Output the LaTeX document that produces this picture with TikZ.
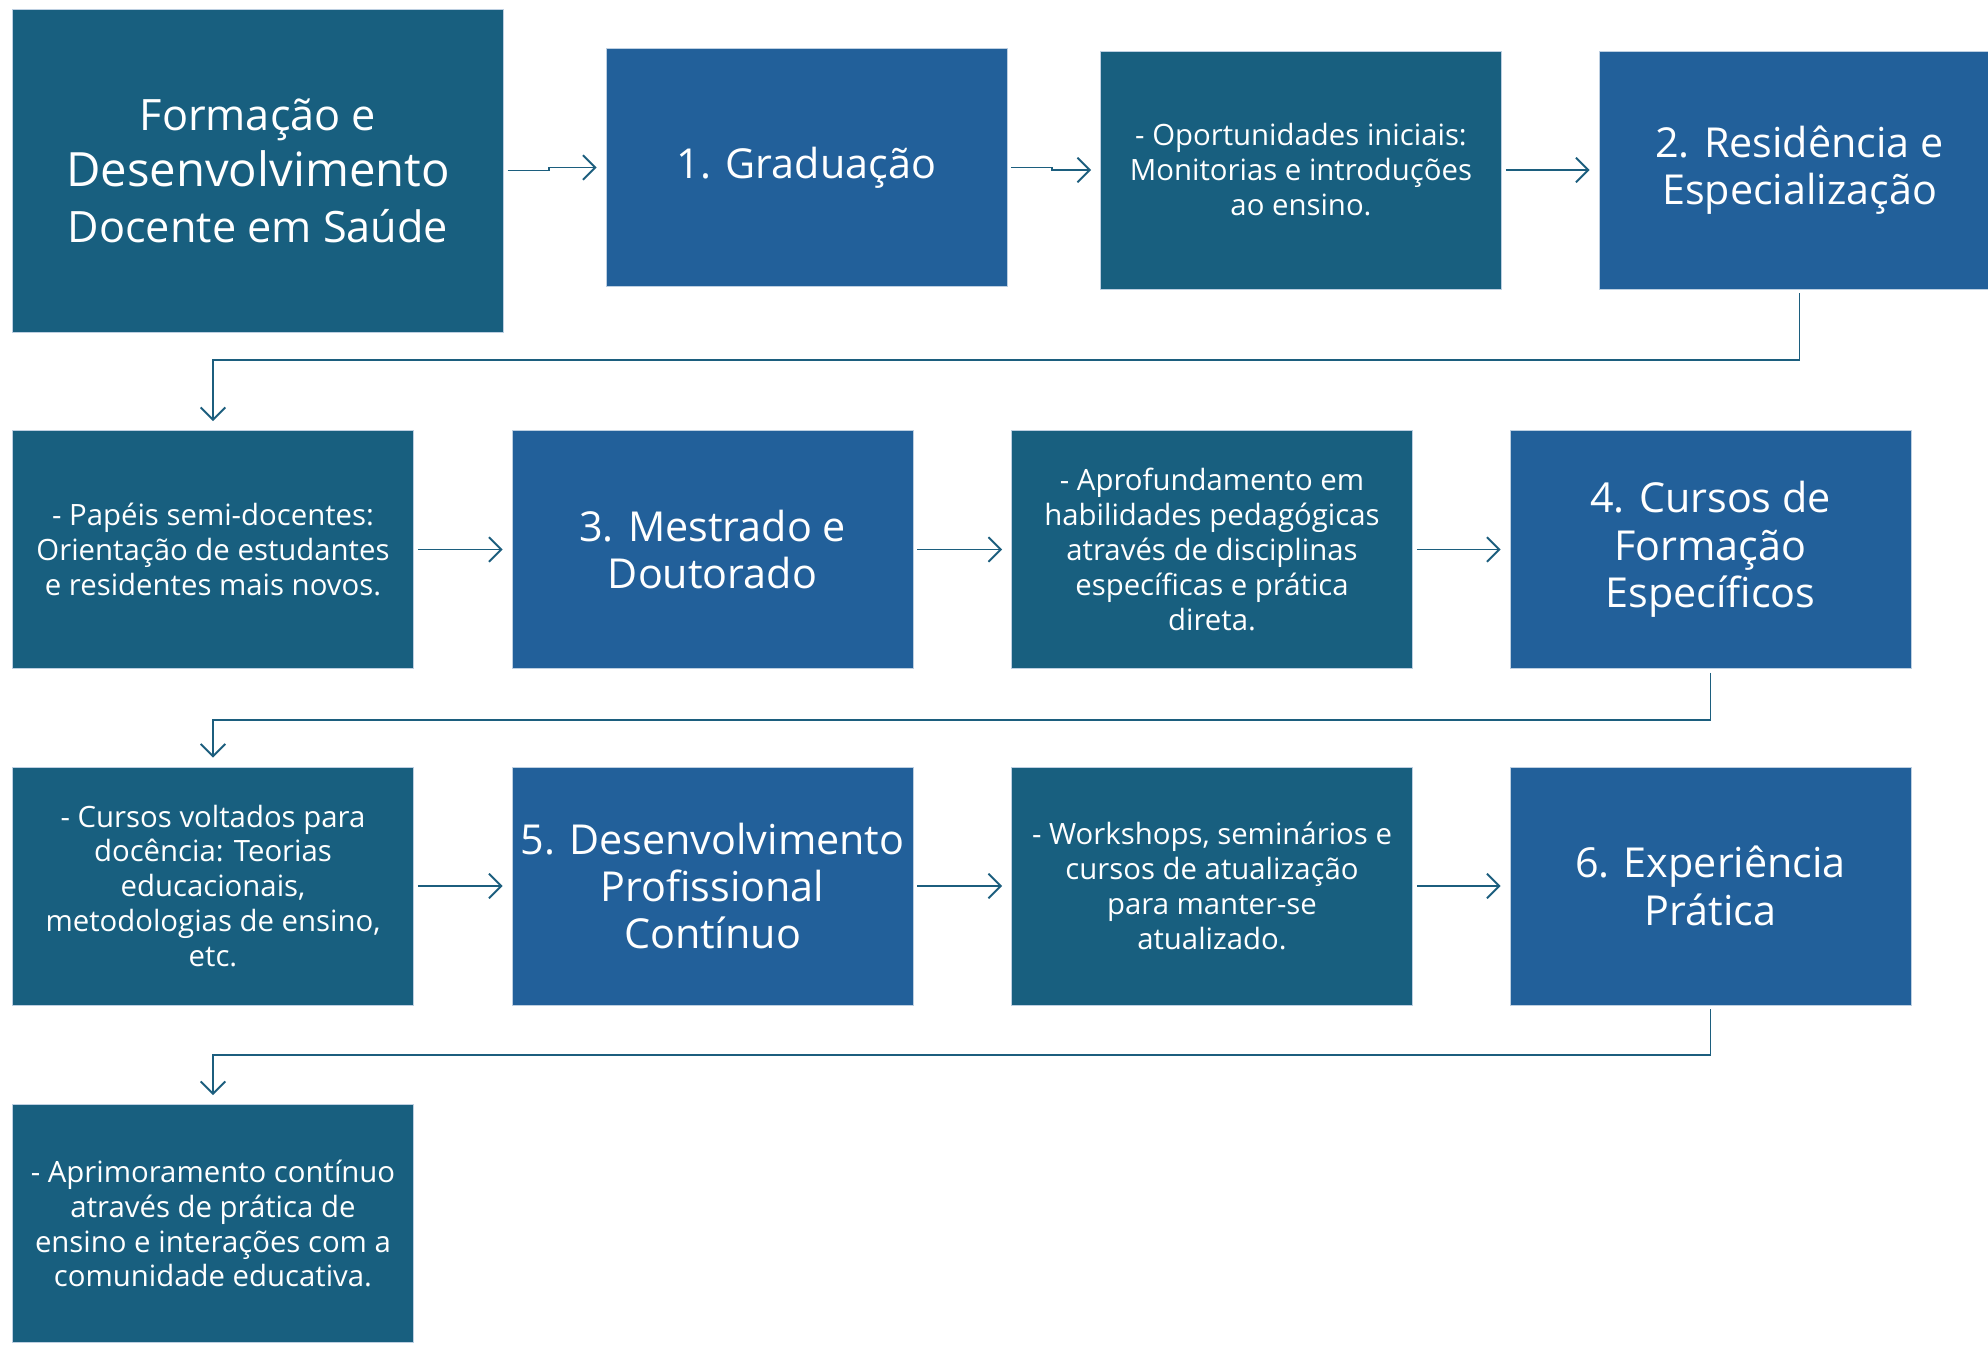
\documentclass[tikz,border=0pt]{standalone}
\usepackage{fontspec}
\setmainfont{Open Sans}
\usetikzlibrary{arrows.meta}
\definecolor{tealbox}{HTML}{185F7F}
\definecolor{bluebox}{HTML}{22609A}
\definecolor{linkcol}{HTML}{1C5E7E}
\tikzset{
  box/.style={draw=white!70!bluebox, line width=0.5pt, text=white, align=center,
    minimum width=8.02cm, minimum height=4.76cm, inner sep=0pt},
  detail/.style={box, fill=tealbox, font=\fontsize{16.7}{19.9}\selectfont},
  stage/.style={box, fill=bluebox, font=\fontsize{23.5}{26.9}\selectfont},
  flow/.style={draw=linkcol, line width=1.1pt, -{Straight Barb[length=7pt,width=14pt]},
    shorten <=0.08cm, shorten >=0.18cm},
}
\begin{document}
\begin{tikzpicture}[x=0.02cm,y=-0.02cm]
\useasboundingbox (0,0) rectangle (1988,1346);
%ROW 1
\node[box, fill=tealbox, minimum width=9.81cm, minimum height=6.46cm,
  font=\fontsize{24.6}{31.9}\selectfont] (titulo) at (258,170.5)
  {Formação e\\{\fontsize{26.9}{31.9}\selectfont Desenvolvimento}\\Docente em Saúde};
\node[stage] (grad) at (806.5,167.5) {1. Graduação};
\node[detail] (oport) at (1301,170) {- Oportunidades iniciais:\\Monitorias e introduções\\ao ensino.};
\node[stage] (resid) at (1799.5,170) {2. Residência e\\Especialização};
%ROW 2
\node[detail] (papeis) at (213,549.5) {- Papéis semi-docentes:\\Orientação de estudantes\\e residentes mais novos.};
\node[stage] (mestr) at (712.5,549.5) {3. Mestrado e\\Doutorado};
\node[detail] (aprof) at (1212,549.5) {- Aprofundamento em\\habilidades pedagógicas\\através de disciplinas\\específicas e prática\\direta.};
\node[stage] (cursos) at (1710.5,549.5) {4. Cursos de\\Formação\\Específicos};
%ROW 3
\node[detail] (docen) at (213,886) {- Cursos voltados para\\docência: Teorias\\educacionais,\\metodologias de ensino,\\etc.};
\node[stage] (desenv) at (712.5,886) {5. Desenvolvimento\\Profissional\\Contínuo};
\node[detail] (works) at (1212,886) {- Workshops, seminários e\\cursos de atualização\\para manter-se\\atualizado.};
\node[stage] (pratica) at (1710.5,886) {6. Experiência\\Prática};
%ROW 4
\node[detail] (aprim) at (213,1223.5) {- Aprimoramento contínuo\\através de prática de\\ensino e interações com a\\comunidade educativa.};
%arrows
\draw[flow] (titulo.east) -- ++(45,0) |- (grad.west);
\draw[flow] (grad.east) -- ++(45,0) |- (oport.west);
\draw[flow] (oport) -- (resid);
\draw[flow] (resid.south) -- ++(0,71) -| (papeis.north);
\draw[flow] (papeis) -- (mestr);
\draw[flow] (mestr) -- (aprof);
\draw[flow] (aprof) -- (cursos);
\draw[flow] (cursos.south) -- ++(0,51) -| (docen.north);
\draw[flow] (docen) -- (desenv);
\draw[flow] (desenv) -- (works);
\draw[flow] (works) -- (pratica);
\draw[flow] (pratica.south) -- ++(0,50) -| (aprim.north);
\end{tikzpicture}
\end{document}
